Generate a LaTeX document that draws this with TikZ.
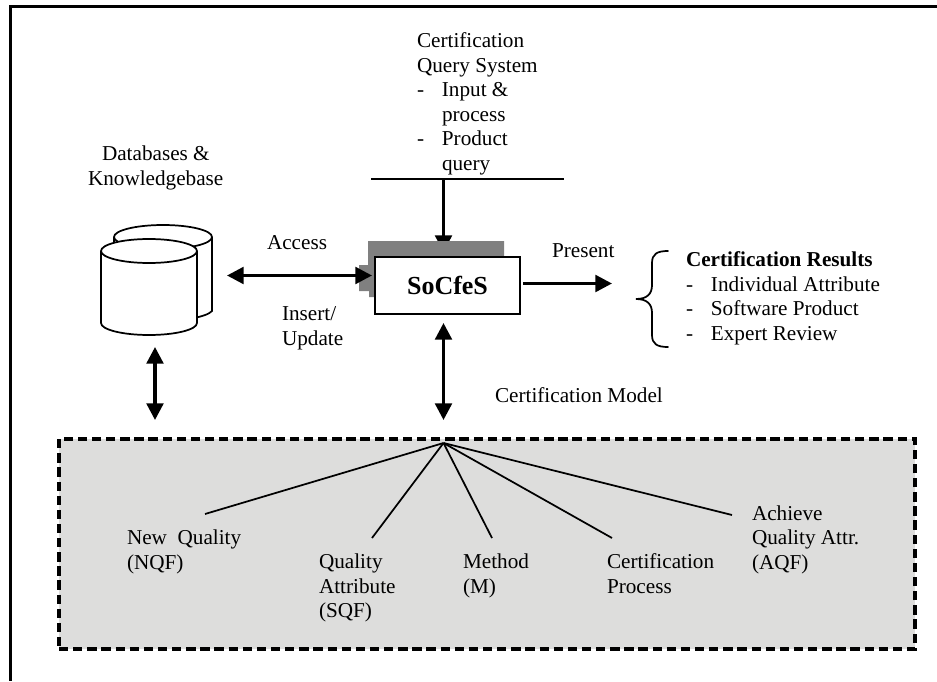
\documentclass[tikz,border=0pt]{standalone}
\usepackage{fontspec}
\setmainfont{Liberation Serif}
\usetikzlibrary{arrows.meta,backgrounds}
\definecolor{panelgrey}{HTML}{DDDDDC}
\definecolor{shadowgrey}{HTML}{808080}
\newcommand{\dashitem}[1]{\makebox[18.7pt][l]{-}#1}
\tikzset{
  x=.75pt,y=-.75pt,
  lbl/.style={inner sep=0pt,outer sep=0pt,anchor=base west,align=left,
    font=\fontsize{15.9}{18.4}\selectfont},
  bigarrow/.style={line width=2.5pt,{Triangle[length=12.5pt,width=12.5pt]}-{Triangle[length=12.5pt,width=12.5pt]}},
  onearrow/.style={line width=2.5pt,-{Triangle[length=12.5pt,width=12.5pt]}},
  thin line/.style={line width=1.3pt},
  dbshape/.style={line width=1.3pt,fill=white},
}
\begin{document}
\begin{tikzpicture}
\useasboundingbox (0,0) rectangle (937,681);
% outer frame
\coordinate (frameTR) at (937,6.5);
\coordinate (frameTL) at (10.5,6.5);
\coordinate (frameBL) at (10.5,681);
\draw[line width=1.6pt] (frameTR) -- (frameTL) -- (frameBL);

% certification model panel
\node[draw,fill=panelgrey,line width=2.3pt,dash pattern=on 7pt off 3.6pt,minimum width=642pt,minimum height=157.5pt,inner sep=0pt,outer sep=0pt] (panel) at (487,544) {};

% main box
\node[draw,fill=white,line width=1.5pt,minimum width=108.75pt,minimum height=42.75pt,inner sep=0pt,outer sep=0pt,font=\fontsize{19.5}{22}\selectfont\bfseries,text depth=0pt] (sys) at (447.5,285.5) {SoCfeS};

\coordinate (qtop) at (443.5,179);
\coordinate (qtip) at (443.5,252);
\begin{scope}[on background layer]
  \draw[onearrow] (qtop) -- (qtip);
  \fill[shadowgrey] (368,241) -- (504,241) -- (504,257) -- (375,257) -- (375,297) -- (369,297) -- (369,291) -- (359,291) -- (359,265) -- (368,265) -- cycle;
\end{scope}

% query bar
\coordinate (barL) at (371,179);
\coordinate (barR) at (564,179);
\draw[thin line] (barL) -- (barR);

% databases (y axis points down, so angles 180 to 360 run over the top)
\draw[dbshape] (114,237) arc[start angle=180,end angle=360,x radius=49,y radius=12] -- (212,311) .. controls (209,314) and (204,316) .. (190,319) -- (114,319) -- cycle;
\draw[line width=1.3pt] (114,237) arc[start angle=180,end angle=90,x radius=49,y radius=12];
\draw[line width=1.3pt] (212,237) arc[start angle=0,end angle=90,x radius=49,y radius=12];
\draw[dbshape] (101,251) arc[start angle=180,end angle=360,x radius=48,y radius=12] -- (197,323) arc[start angle=0,end angle=180,x radius=48,y radius=12] -- cycle;
\draw[line width=1.3pt] (101,251) arc[start angle=180,end angle=0,x radius=48,y radius=12];

% arrows
\coordinate (accL) at (227,275.5);
\coordinate (accR) at (372,275.5);
\draw[bigarrow] (accL) -- (accR);
\coordinate (preL) at (523,283.5);
\coordinate (preR) at (612,283.5);
\draw[onearrow] (preL) -- (preR);
\coordinate (botT) at (443.5,323);
\coordinate (botB) at (443.5,420);
\draw[bigarrow] (botT) -- (botB);
\coordinate (dbT) at (155,347);
\coordinate (dbB) at (155,420);
\draw[bigarrow] (dbT) -- (dbB);

% fan
\coordinate (apex) at (443.5,443);
\coordinate (eNQF) at (205,514);
\coordinate (eSQF) at (372,538);
\coordinate (eM) at (492,538);
\coordinate (eCP) at (612,538);
\coordinate (eAQF) at (732,515);
\draw[thin line] (apex) -- (eNQF);
\draw[thin line] (apex) -- (eSQF);
\draw[thin line] (apex) -- (eM);
\draw[thin line] (apex) -- (eCP);
\draw[thin line] (apex) -- (eAQF);

% brace
\draw[line width=1.3pt,line cap=round] (668,251) .. controls (657,251) and (652,254) .. (652,263) -- (652,285) .. controls (652,294) and (647,299) .. (636,299) .. controls (647,299) and (652,304) .. (652,313) -- (652,335) .. controls (652,344) and (657,347) .. (668,347);

% labels
\node[lbl] (tCert) at (417,48) {Certification};
\node[lbl] (tQuery) at (417,73) {Query System};
\node[lbl] (tInput) at (417,97) {\dashitem{Input \&}};
\node[lbl] (tProc) at (442,122) {process};
\node[lbl] (tProd) at (417,146) {\dashitem{Product}};
\node[lbl] (tQ) at (442,171) {query};

\node[lbl] (tDb) at (102,160) {Databases \&};
\node[lbl] (tKb) at (88,185) {Knowledgebase};
\node[lbl] (tAcc) at (267,249) {Access};
\node[lbl] (tIns) at (282,320) {Insert/};
\node[lbl] (tUpd) at (282,345) {Update};
\node[lbl] (tPres) at (552,257) {Present};

\node[lbl,font=\fontsize{15.9}{18.4}\selectfont\bfseries] (tRes) at (686,266) {Certification Results};
\node[lbl] (tR1) at (686,291) {\dashitem{Individual Attribute}};
\node[lbl] (tR2) at (686,315) {\dashitem{Software Product}};
\node[lbl] (tR3) at (686,340) {\dashitem{Expert Review}};
\node[lbl] (tModel) at (495,402) {Certification Model};

\node[lbl] (tN1) at (127,544) {New~ Quality};
\node[lbl] (tN2) at (127,569) {(NQF)};
\node[lbl] (tS1) at (319,568) {Quality};
\node[lbl] (tS2) at (319,593) {Attribute};
\node[lbl] (tS3) at (319,617) {(SQF)};
\node[lbl] (tM1) at (463,568) {Method};
\node[lbl] (tM2) at (463,593) {(M)};
\node[lbl] (tC1) at (607,568) {Certification};
\node[lbl] (tC2) at (607,593) {Process};
\node[lbl] (tA1) at (752,520) {Achieve};
\node[lbl] (tA2) at (752,544) {Quality Attr.};
\node[lbl] (tA3) at (752,569) {(AQF)};
\end{tikzpicture}
\end{document}
